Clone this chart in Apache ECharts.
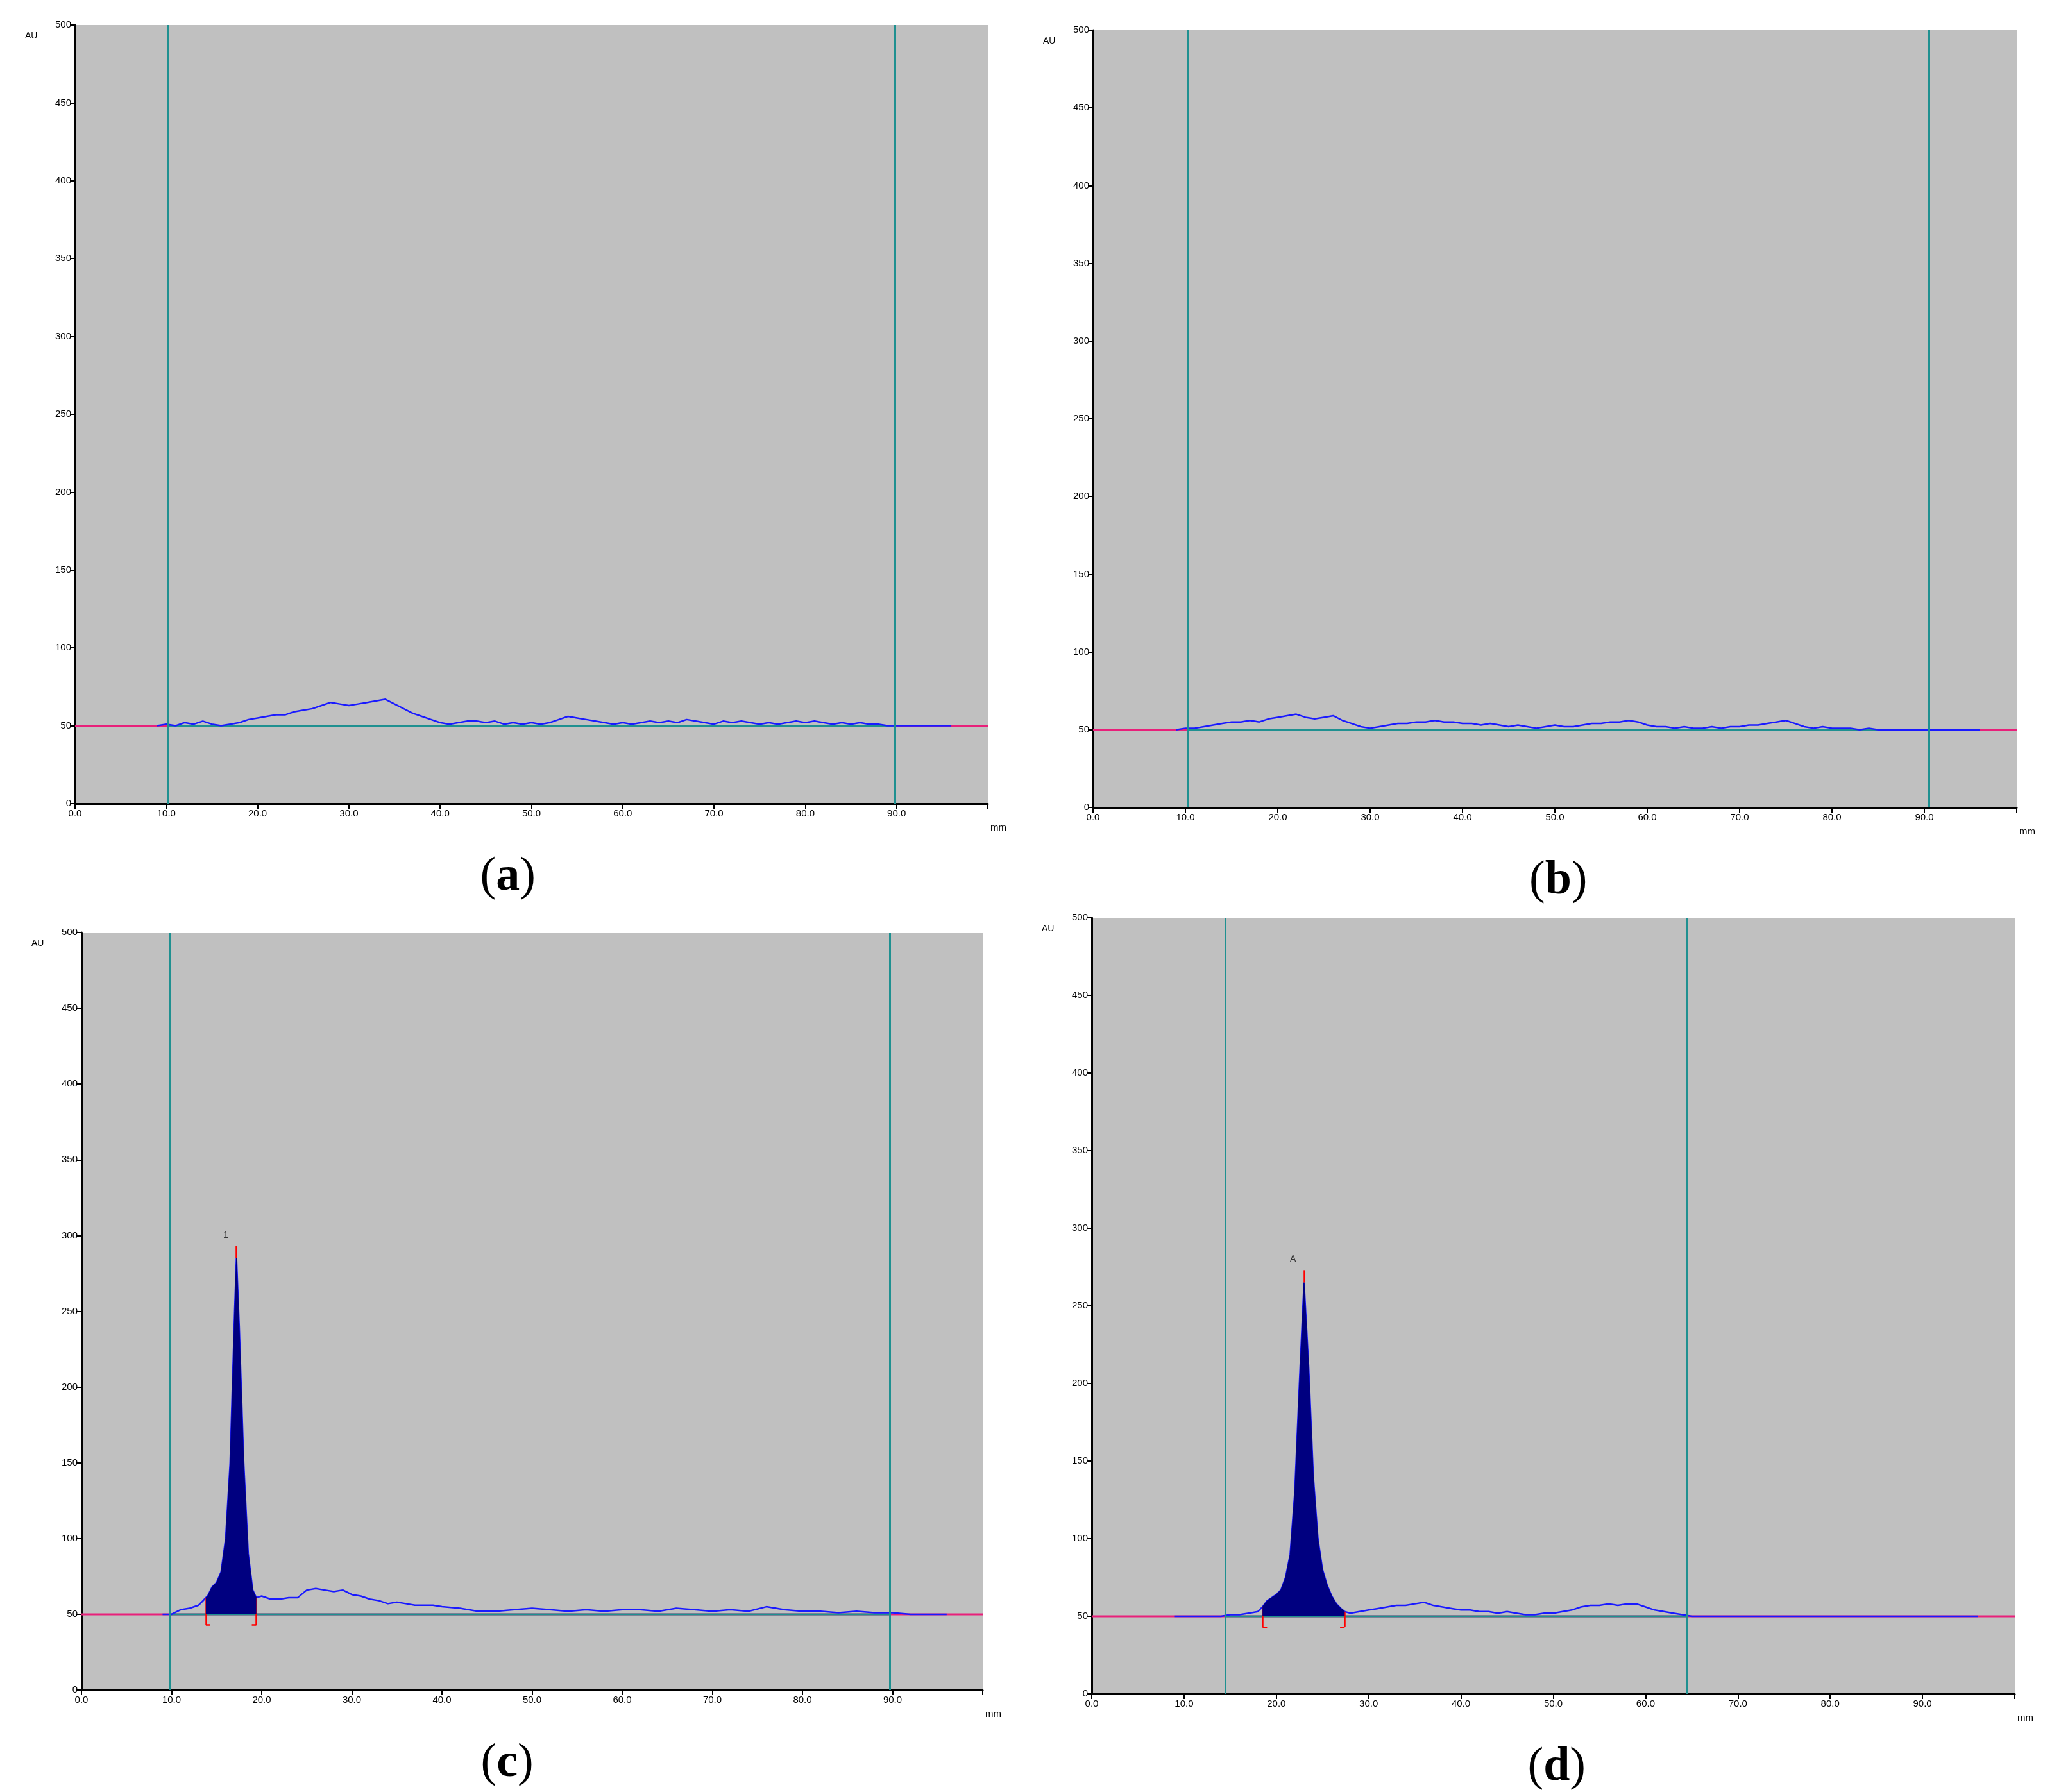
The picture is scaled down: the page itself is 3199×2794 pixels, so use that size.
<!DOCTYPE html>
<html>
<head>
<meta charset="utf-8">
<script src="https://cdn.jsdelivr.net/npm/echarts@6/dist/echarts.min.js"></script>
<style>
  html, body { margin: 0; padding: 0; background: #fff; }
  #chart { width: 3199px; height: 2794px; }
</style>
</head>
<body>
<div id="chart"></div>
<script>
// y-axis ticks (AU) and x-axis ticks (mm)
const yTicks = [0, 50, 100, 150, 200, 250, 300, 350, 400, 450, 500];
const xTicks = [0, 10, 20, 30, 40, 50, 60, 70, 80, 90];

// baseline trace positions (mm), 1 mm step
const xBase = [9,10,11,12,13,14,15,16,17,18,19,20,21,22,23,24,25,26,27,28,29,30,31,32,33,34,35,36,37,38,39,40,41,42,43,44,45,46,47,48,49,50,51,52,53,54,55,56,57,58,59,60,61,62,63,64,65,66,67,68,69,70,71,72,73,74,75,76,77,78,79,80,81,82,83,84,85,86,87,88,89,90,91,92,93,94,95,96];

// (a) blank
const yA = [50,51,50,52,51,53,51,50,51,52,54,55,56,57,57,59,60,61,63,65,64,63,64,65,66,67,64,61,58,56,54,52,51,52,53,53,52,53,51,52,51,52,51,52,54,56,55,54,53,52,51,52,51,52,53,52,53,52,54,53,52,51,53,52,53,52,51,52,51,52,53,52,53,52,51,52,51,52,51,51,50,50,50,50,50,50,50,50];
// (b)
const yB = [50,51,51,52,53,54,55,55,56,55,57,58,59,60,58,57,58,59,56,54,52,51,52,53,54,54,55,55,56,55,55,54,54,53,54,53,52,53,52,51,52,53,52,52,53,54,54,55,55,56,55,53,52,52,51,52,51,51,52,51,52,52,53,53,54,55,56,54,52,51,52,51,51,51,50,51,50,50,50,50,50,50,50,50,50,50,50,50];

// (c) peak "1"
const xC = [9,10,11,12,13,13.5,13.8,14,14.5,15,15.5,16,16.5,17,17.2,17.5,18,18.5,19,19.4,20,21,22,23,24,25,26,27,28,29,30,31,32,33,34,35,36,37,38,39,40,42,44,46,48,50,52,54,56,58,60,62,64,66,68,70,72,74,76,78,80,82,84,86,88,90,92,94,96];
const yC = [50,50,53,54,56,59,61,62,68,71,78,100,150,250,285,240,150,90,66,61,62,60,60,61,61,66,67,66,65,66,63,62,60,59,57,58,57,56,56,56,55,54,52,52,53,54,53,52,53,52,53,53,52,54,53,52,53,52,55,53,52,52,51,52,51,51,50,50,50];
const fillC = [13.8, 19.4];

// (d) peak "A"
const xD = [9,10,11,12,13,14,15,16,17,18,18.5,19,19.5,20,20.5,21,21.5,22,22.5,23,23.5,24,24.5,25,25.5,26,26.5,27,27.4,28,29,30,31,32,33,34,35,36,37,38,39,40,41,42,43,44,45,46,47,48,49,50,51,52,53,54,55,56,57,58,59,60,61,62,63,64,65,70,75,80,85,90,96];
const yD = [50,50,50,50,50,50,51,51,52,53,56,60,62,64,67,75,90,130,200,265,210,140,100,80,70,63,58,55,53,52,53,54,55,56,57,57,58,59,57,56,55,54,54,53,53,52,53,52,51,51,52,52,53,54,56,57,57,58,57,58,58,56,54,53,52,51,50,50,50,50,50,50,50];
const fillD = [18.5, 27.4];

const panels = [
  { label: 'a', grid: { left: 117, top: 39, width: 1423, height: 1214 }, x: xBase, y: yA, cursors: [10.2, 89.8] },
  { label: 'b', grid: { left: 1704, top: 47, width: 1440, height: 1212 }, x: xBase, y: yB, cursors: [10.2, 90.5] },
  { label: 'c', grid: { left: 127, top: 1454, width: 1405, height: 1181 }, x: xC, y: yC, cursors: [9.8, 89.7], fill: fillC, peak: '1' },
  { label: 'd', grid: { left: 1702, top: 1431, width: 1439, height: 1210 }, x: xD, y: yD, cursors: [14.5, 64.5], fill: fillD, peak: 'A' }
];

const grids = [], xAxes = [], yAxes = [], series = [], graphics = [];

panels.forEach((p, i) => {
    const g = p.grid;
    grids.push(Object.assign({ backgroundColor: '#c0c0c0', show: true, borderWidth: 0 }, g));
    xAxes.push({
        type: 'value', gridIndex: i, min: 0, max: 100, interval: 10,
        axisLine: { onZero: false, lineStyle: { color: '#000', width: 3 } },
        axisTick: { length: 8, lineStyle: { color: '#000', width: 2 } },
        splitLine: { show: false },
        axisLabel: { fontSize: 15, color: '#000', fontFamily: 'Liberation Sans', margin: 8,
            formatter: v => v >= 100 ? '' : v.toFixed(1) },
        name: 'mm', nameLocation: 'end', nameGap: 4,
        nameTextStyle: { fontSize: 15, color: '#000', verticalAlign: 'top', padding: [30, 0, 0, 0] }
    });
    yAxes.push({
        type: 'value', gridIndex: i, min: 0, max: 500, interval: 50,
        axisLine: { show: true, lineStyle: { color: '#000', width: 3 } },
        axisTick: { show: true, length: 8, lineStyle: { color: '#000', width: 2 } },
        splitLine: { show: false },
        axisLabel: { fontSize: 15, color: '#000', fontFamily: 'Liberation Sans', margin: 6 }
    });
    // pink baseline across full width
    series.push({
        type: 'line', xAxisIndex: i, yAxisIndex: i, data: [[0, 50], [100, 50]],
        symbol: 'none', lineStyle: { color: '#e8207a', width: 3 }, silent: true, z: 1
    });
    // green baseline between cursors + cursors
    series.push({
        type: 'line', xAxisIndex: i, yAxisIndex: i, data: [[p.cursors[0], 50], [p.cursors[1], 50]],
        symbol: 'none', lineStyle: { color: '#1f9090', width: 3 }, silent: true, z: 3,
        markLine: {
            silent: true, symbol: 'none', label: { show: false },
            lineStyle: { color: '#1f9090', width: 3, type: 'solid' },
            data: p.cursors.map(c => ({ xAxis: c }))
        }
    });
    const pts = p.x.map((v, k) => [v, p.y[k]]);
    series.push({
        type: 'line', xAxisIndex: i, yAxisIndex: i, data: pts, symbol: 'none',
        lineStyle: { color: '#1a1aff', width: 2.5 }, z: 4
    });
    if (p.fill) {
        const seg = pts.filter(d => d[0] >= p.fill[0] && d[0] <= p.fill[1]);
        const top = seg.reduce((a, b) => b[1] > a[1] ? b : a);
        const br = [];
        [[p.fill[0], 0.5], [p.fill[1], -0.5]].forEach(([fx, dx]) => {
            const fy = seg.find(d => d[0] === fx)[1];
            br.push([{ coord: [fx, fy] }, { coord: [fx, 43] }]);
            br.push([{ coord: [fx, 43] }, { coord: [fx + dx, 43] }]);
        });
        br.push([{ coord: [top[0], top[1]] }, { coord: [top[0], top[1] + 8] }]);
        series.push({
            type: 'line', xAxisIndex: i, yAxisIndex: i, data: seg, symbol: 'none',
            lineStyle: { color: '#000080', width: 1 },
            areaStyle: { color: '#000080', opacity: 1, origin: 50 }, z: 5,
            markLine: {
                silent: true, symbol: 'none', label: { show: false },
                lineStyle: { color: '#ff0000', width: 2.5, type: 'solid' }, data: br
            },
            markPoint: {
                symbol: 'circle', symbolSize: 1, itemStyle: { color: 'transparent' },
                data: [{ coord: [top[0] - 1.2, top[1] + 15], value: p.peak,
                    label: { show: true, formatter: p.peak, fontSize: 14, color: '#333', fontFamily: 'Liberation Sans' } }]
            }
        });
    }
    graphics.push({
        type: 'text', left: g.left - 78, top: g.top + 10,
        style: { text: 'AU', fontSize: 14, fill: '#000', fontFamily: 'Liberation Sans' }
    });
    graphics.push({
        type: 'text', left: g.left + g.width / 2 - 80 + (i % 2 ? 40 : 0), top: g.top + g.height + 78,
        style: {
            text: '({b|' + p.label + '})',
            font: '74px "Liberation Serif"', fill: '#000',
            rich: { b: { fontSize: 74, fontWeight: 'bold', fontFamily: 'Liberation Serif' } }
        }
    });
});

const chart = echarts.init(document.getElementById('chart'));
chart.setOption({
    animation: false,
    backgroundColor: '#fff',
    grid: grids, xAxis: xAxes, yAxis: yAxes, series, graphic: graphics
});
</script>
</body>
</html>
